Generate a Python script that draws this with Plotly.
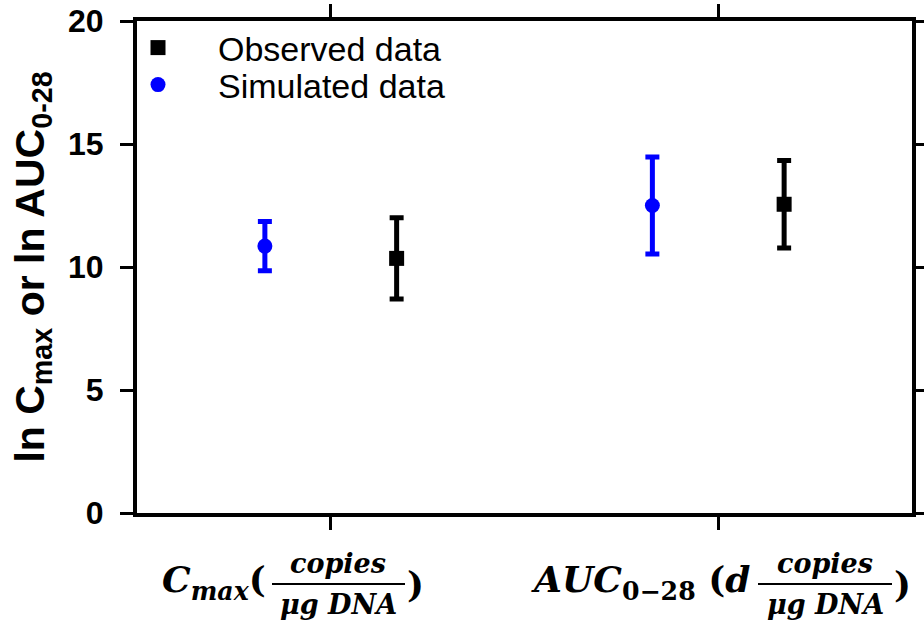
import plotly.graph_objects as go

categories = [0, 1]  # Cmax, AUC0-28
sim_offset = -0.17
obs_offset = 0.17
sim_mean = [10.85, 12.5]
sim_err = [1.0, 1.97]
obs_mean = [10.35, 12.55]
obs_err = [1.65, 1.78]
y_ticks = [0, 5, 10, 15, 20]

W, H = 924, 634
L, R, T, B = 137, 12, 21, 121
PW, PH = W - L - R, H - T - B


def px(x):
    return (x - L) / PW


def py(y):
    return (H - B - y) / PH


fig = go.Figure()
fig.add_trace(go.Scatter(
    x=[c + obs_offset for c in categories], y=obs_mean, mode="markers",
    name="Observed data", legend="legend",
    marker=dict(symbol="square", size=15, color="black"),
    error_y=dict(type="data", array=obs_err, visible=True, color="black",
                 thickness=5, width=7),
))
fig.add_trace(go.Scatter(
    x=[c + sim_offset for c in categories], y=sim_mean, mode="markers",
    name="Simulated data", legend="legend2",
    marker=dict(symbol="circle", size=15, color="#0000FF"),
    error_y=dict(type="data", array=sim_err, visible=True, color="#0000FF",
                 thickness=5, width=7),
))

axis_common = dict(showline=True, linecolor="black", linewidth=4,
                   mirror="allticks", ticks="outside", tickcolor="black",
                   tickwidth=3, ticklen=13, showgrid=False, zeroline=False,
                   automargin=False)

fig.update_xaxes(range=[-0.5, 1.5], tickvals=categories, showticklabels=False,
                 **axis_common)
fig.update_yaxes(range=[0, 20], tickvals=y_ticks, ticklabelstandoff=10,
                 tickfont=dict(family="Liberation Sans", size=32, color="black", weight="bold"),
                 title=dict(text="ln C<sub>max</sub> or ln AUC<sub>0-28</sub>",
                            font=dict(family="Liberation Sans", size=41, color="black", weight="bold"),
                            standoff=12),
                 **axis_common)

serif = dict(family="DejaVu Serif", color="black")
ann = []
shapes = []


def label(x, y, text, size, xanchor="center"):
    ann.append(dict(x=px(x), y=py(y), xref="paper", yref="paper", text=text,
                    showarrow=False, xanchor=xanchor, yanchor="middle",
                    font=dict(size=size, **serif)))


# Cmax label
label(268, 582, "<b><i>C<sub>max</sub></i>(</b>", 36, "right")
label(338, 563, "<b><i>copies</i></b>", 27)
label(338, 604, "<b><i>μg DNA</i></b>", 27)
label(405, 584, "<b>)</b>", 36, "left")
shapes.append(dict(type="line", xref="paper", yref="paper", x0=px(272), x1=px(405),
                   y0=py(584), y1=py(584), line=dict(color="black", width=2)))
# AUC label
label(752, 582, "<b><i>AUC</i><sub>0−28</sub> (<i>d</i></b>", 36, "right")
label(825, 563, "<b><i>copies</i></b>", 27)
label(825, 604, "<b><i>μg DNA</i></b>", 27)
label(892, 584, "<b>)</b>", 36, "left")
shapes.append(dict(type="line", xref="paper", yref="paper", x0=px(758), x1=px(892),
                   y0=py(584), y1=py(584), line=dict(color="black", width=2)))

leg_common = dict(xanchor="left", yanchor="middle", bgcolor="rgba(0,0,0,0)",
                  itemwidth=110,
                  font=dict(family="Liberation Sans", size=34, color="black"))

fig.update_layout(
    width=W, height=H,
    margin=dict(l=L, r=R, t=T, b=B, pad=0),
    paper_bgcolor="white", plot_bgcolor="white",
    showlegend=True,
    legend=dict(x=px(98), y=py(48), **leg_common),
    legend2=dict(x=px(98), y=py(85), **leg_common),
    annotations=ann, shapes=shapes,
)

fig.write_html("out.html", config={"displayModeBar": False},
               post_script="document.body.style.margin='0';document.body.style.overflow='hidden';")
